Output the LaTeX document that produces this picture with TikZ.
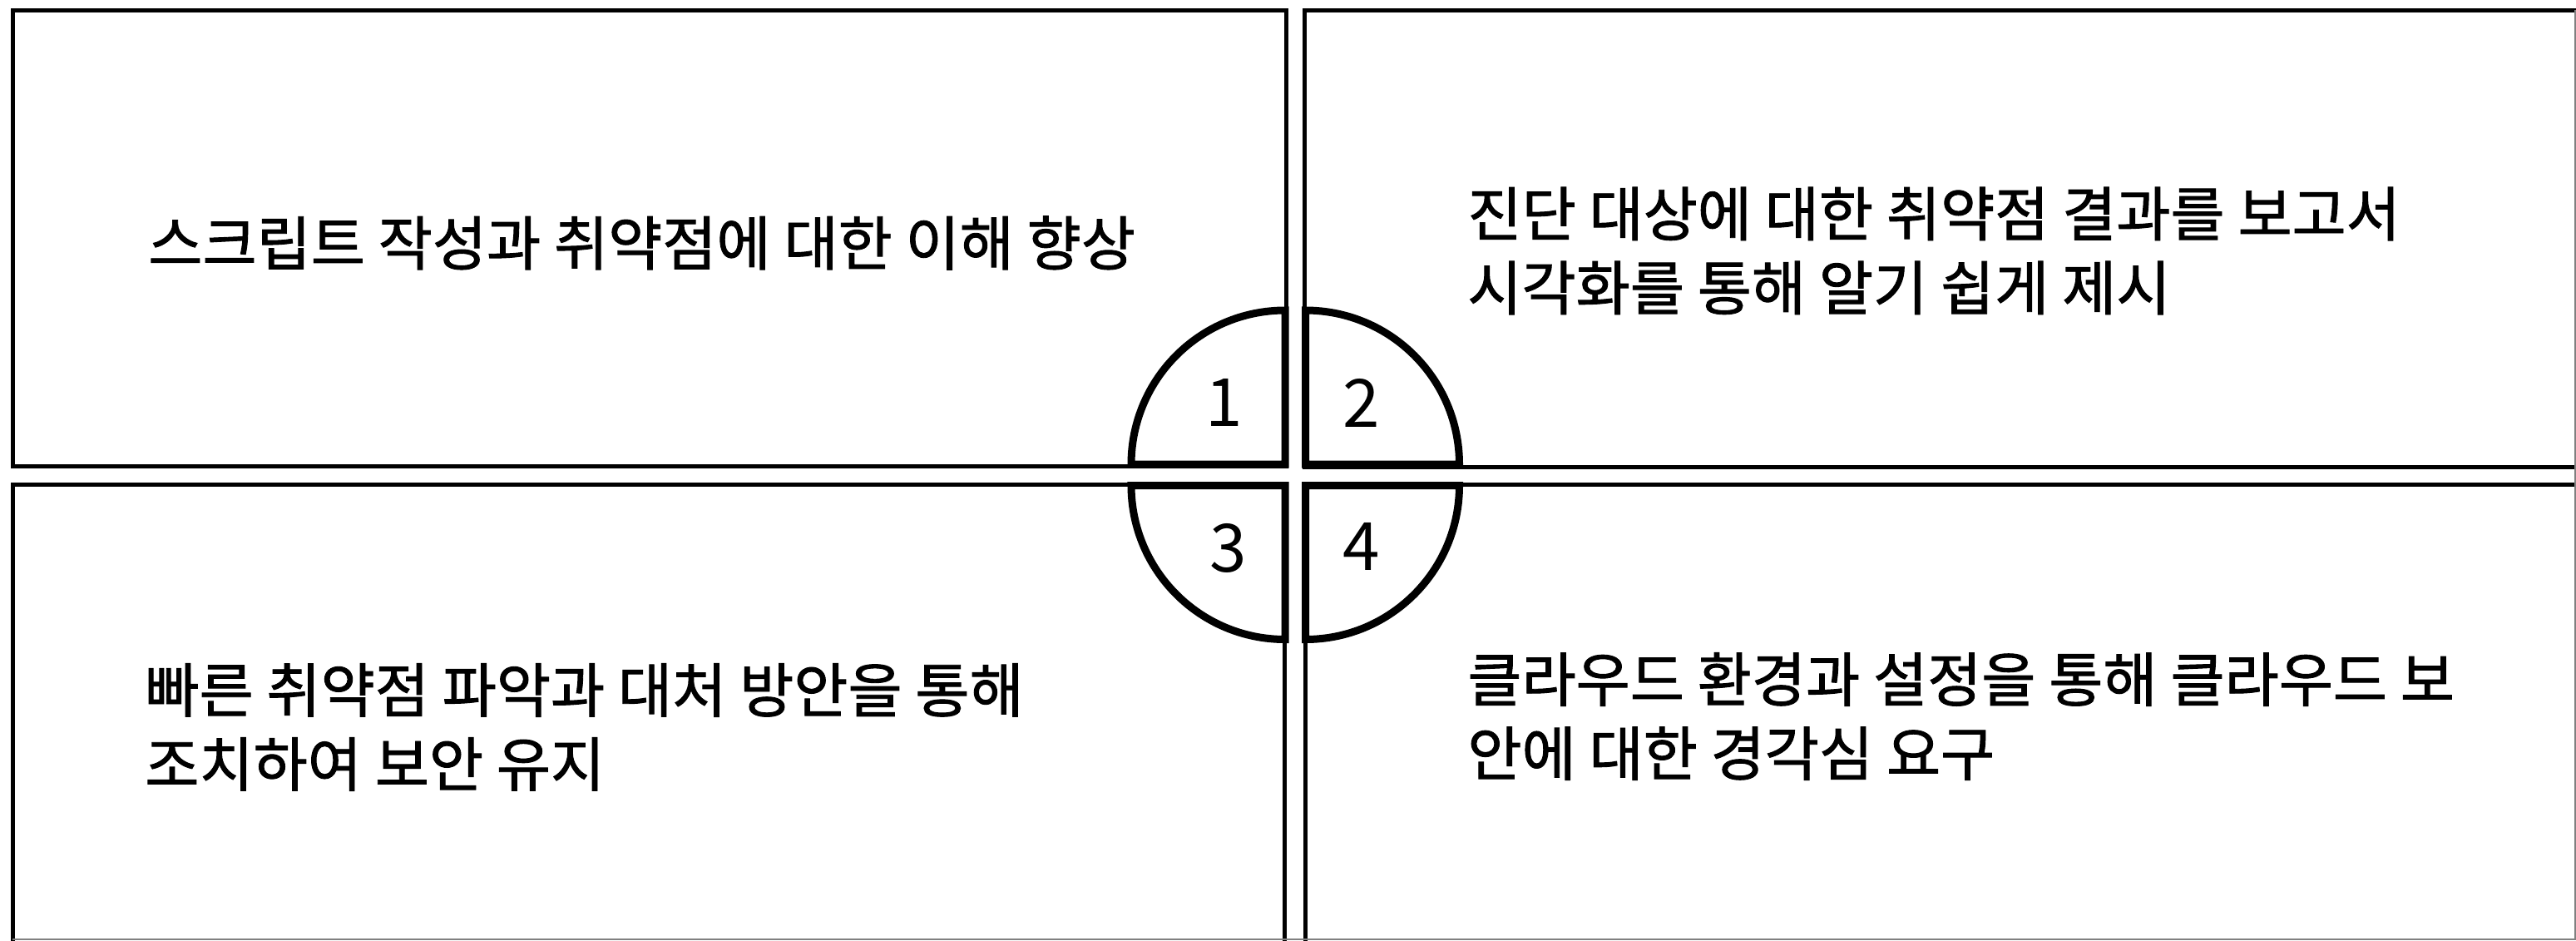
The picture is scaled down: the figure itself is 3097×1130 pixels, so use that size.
\documentclass[tikz,border=0pt]{standalone}
\usepackage{fontspec}
\newfontfamily\kr{Noto Sans CJK KR}
\newfontfamily\krb[FakeBold=1.3]{Noto Sans CJK KR}
\begin{document}
\begin{tikzpicture}[x=0.5pt,y=-0.5pt,
  boxline/.style={draw=black,line width=2.5pt,fill=white},
  quad/.style={draw=black,line width=4.5pt,fill=white,line join=miter},
  num/.style={font=\kr\fontsize{40}{48}\selectfont,inner sep=0pt},
  txt/.style={font=\krb\fontsize{35.4}{44.5}\selectfont,align=left,anchor=west,inner sep=0pt}]
\useasboundingbox (0,0) rectangle (3097,1130);
\fill[white] (0,0) rectangle (3097,1130);
% four boxes
\draw[boxline] (15.5,12) rectangle (1546,560);
\draw[boxline] (1568,12) rectangle (3110,561);
\draw[boxline] (15,582) rectangle (1544,1145);
\draw[boxline] (1569,582) rectangle (3110,1145);
% thin frame at right and bottom edges
\draw[gray,line width=0.6pt] (3096,12) -- (3096,1129) -- (15,1129);
% quadrants
\draw[quad] (1545,558) -- (1360,558) arc[start angle=180,end angle=90,radius=92.5pt] -- cycle;
\draw[quad] (1569.5,558) -- (1569.5,373) arc[start angle=90,end angle=0,radius=92.5pt] -- cycle;
\draw[quad] (1545,583.5) -- (1360,583.5) arc[start angle=180,end angle=270,radius=92.5pt] -- cycle;
\draw[quad] (1569.5,583.5) -- (1754.5,583.5) arc[start angle=0,end angle=-90,radius=92.5pt] -- cycle;
% numbers
\node[num] (n1) at (1472,484) {1};
\node[num] (n2) at (1637,484) {2};
\node[num] (n3) at (1477,659) {3};
\node[num] (n4) at (1637,657) {4};
% texts
\node[txt] (t1) at (178,292) {스크립트 작성과 취약점에 대한 이해 향상};
\node[txt] (t2) at (1764,301.5) {진단 대상에 대한 취약점 결과를 보고서\\시각화를 통해 알기 쉽게 제시};
\node[txt] (t3) at (174,874) {빠른 취약점 파악과 대처 방안을 통해\\조치하여 보안 유지};
\node[txt] (t4) at (1764,861) {클라우드 환경과 설정을 통해 클라우드 보\\안에 대한 경각심 요구};
\end{tikzpicture}
\end{document}
